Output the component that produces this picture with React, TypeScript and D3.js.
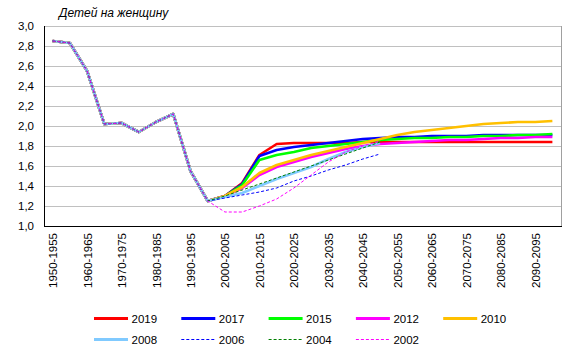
import React from "react";
import * as d3 from "d3";

const categories = [
  "1950-1955", "1955-1960", "1960-1965", "1965-1970", "1970-1975", "1975-1980",
  "1980-1985", "1985-1990", "1990-1995", "1995-2000", "2000-2005", "2005-2010",
  "2010-2015", "2015-2020", "2020-2025", "2025-2030", "2030-2035", "2035-2040",
  "2040-2045", "2045-2050", "2050-2055", "2055-2060", "2060-2065", "2065-2070",
  "2070-2075", "2075-2080", "2080-2085", "2085-2090", "2090-2095", "2095-2100",
];

const yTicks = [1.0, 1.2, 1.4, 1.6, 1.8, 2.0, 2.2, 2.4, 2.6, 2.8, 3.0];

// 1950-1955 .. 1995-2000
const history = [2.85, 2.83, 2.55, 2.02, 2.03, 1.94, 2.04, 2.12, 1.55, 1.25];

// 2000-2005 onward
const proj2019 = [1.30, 1.43, 1.71, 1.82, 1.83, 1.83, 1.83, 1.83, 1.84, 1.84, 1.84, 1.84, 1.84, 1.84, 1.84, 1.84, 1.84, 1.84, 1.84, 1.84];
const proj2017 = [1.30, 1.42, 1.70, 1.76, 1.79, 1.81, 1.83, 1.85, 1.87, 1.88, 1.89, 1.89, 1.90, 1.90, 1.90, 1.91, 1.91, 1.91, 1.91, 1.91];
const proj2015 = [1.30, 1.41, 1.66, 1.71, 1.74, 1.78, 1.80, 1.82, 1.84, 1.86, 1.87, 1.88, 1.88, 1.89, 1.89, 1.90, 1.90, 1.91, 1.91, 1.92];
const proj2012 = [1.30, 1.38, 1.51, 1.59, 1.64, 1.69, 1.73, 1.77, 1.80, 1.82, 1.83, 1.84, 1.85, 1.86, 1.86, 1.87, 1.88, 1.88, 1.89, 1.89];
const proj2010 = [1.30, 1.39, 1.53, 1.61, 1.66, 1.71, 1.75, 1.79, 1.83, 1.87, 1.91, 1.94, 1.96, 1.98, 2.00, 2.02, 2.03, 2.04, 2.04, 2.05];
const proj2008 = [1.29, 1.33, 1.40, 1.47, 1.53, 1.59, 1.67, 1.74, 1.79, 1.83];
const proj2006 = [1.28, 1.31, 1.34, 1.38, 1.45, 1.50, 1.56, 1.61, 1.67, 1.72];
const proj2004 = [1.30, 1.36, 1.42, 1.48, 1.54, 1.60, 1.66, 1.72, 1.78, 1.84];
const proj2002 = [1.14, 1.14, 1.20, 1.27, 1.38, 1.51, 1.64, 1.74, 1.80, 1.85];

const seriesNames = ["2019", "2017", "2015", "2012", "2010", "2008", "2006", "2004", "2002"];
const seriesValues = [proj2019, proj2017, proj2015, proj2012, proj2010, proj2008, proj2006, proj2004, proj2002];
const seriesColors = ["#FF0000", "#0000FF", "#00FF00", "#FF00FF", "#FFC000", "#80CAFF", "#0000FF", "#008000", "#FF00FF"];
const seriesDashed = [false, false, false, false, false, false, true, true, true];

const W = 575;
const H = 356;
const plotL = 44;
const plotR = 561;
const plotT = 26;
const plotB = 226;

export default function App() {
  const x = d3.scaleBand<string>().domain(categories).range([plotL, plotR]).padding(0);
  const y = d3.scaleLinear().domain([1, 3]).range([plotB, plotT]);
  const cx = (i: number) => (x(categories[i]) as number) + x.bandwidth() / 2;

  const line = d3
    .line<[number, number]>()
    .x((d) => cx(d[0]))
    .y((d) => y(d[1]));

  const series = seriesNames.map((name, k) => {
    const vals = [...history, ...seriesValues[k]];
    const pts: [number, number][] = vals.map((v, i) => [i, v]);
    return { name, pts, color: seriesColors[k], dashed: seriesDashed[k] };
  });

  const font = "'Liberation Sans', Arial, sans-serif";

  return (
    <svg
      width={W}
      height={H}
      style={{ position: "absolute", left: 0, top: 0, background: "#fff" }}
      fontFamily={font}
    >
      <rect x={0} y={0} width={W} height={H} fill="#fff" />
      {/* grid */}
      {yTicks.map((t) => (
        <line
          key={"g" + t}
          x1={plotL}
          x2={plotR}
          y1={Math.round(y(t)) + 0.5}
          y2={Math.round(y(t)) + 0.5}
          stroke="#C0C0C0"
          strokeWidth={1}
        />
      ))}
      <line x1={plotR + 0.5} x2={plotR + 0.5} y1={plotT} y2={plotB} stroke="#A0A0A0" />
      {/* y labels */}
      {yTicks.map((t) => (
        <text
          key={"yl" + t}
          x={34}
          y={y(t) + 4}
          textAnchor="end"
          fontSize={11.5}
          fill="#000"
        >
          {t.toFixed(1).replace(".", ",")}
        </text>
      ))}
      {/* title */}
      <text x={59} y={17} fontSize={12} fontStyle="italic" fill="#000">
        Детей на женщину
      </text>
      {/* lines */}
      {series.map((s) => (
        <path
          key={s.name}
          d={line(s.pts) || ""}
          fill="none"
          stroke={s.color}
          strokeWidth={s.dashed ? 1 : 2.6}
          strokeDasharray={s.dashed ? "3,2" : undefined}
          strokeLinejoin="round"
        />
      ))}
      {/* axes */}
      <line x1={plotL + 0.5} x2={plotL + 0.5} y1={plotT} y2={plotB + 1} stroke="#000" />
      <line x1={plotL} x2={plotR + 1} y1={plotB + 0.5} y2={plotB + 0.5} stroke="#000" />
      {/* x labels */}
      {categories.map((c, i) =>
        i % 2 === 0 ? (
          <text
            key={c}
            transform={`translate(${cx(i) + 4.5},${plotB + 7}) rotate(-90)`}
            textAnchor="end"
            fontSize={11.5}
            fill="#000"
          >
            {c}
          </text>
        ) : null
      )}
      {/* legend */}
      {series.map((s, k) => {
        const col = k % 5;
        const row = Math.floor(k / 5);
        const lx = 94 + col * 87.3;
        const ly = 318.5 + row * 21;
        return (
          <g key={"lg" + s.name}>
            <line
              x1={lx}
              x2={lx + 34}
              y1={ly}
              y2={ly}
              stroke={s.color}
              strokeWidth={s.dashed ? 1 : 3}
              strokeDasharray={s.dashed ? "3,2" : undefined}
            />
            <text x={lx + 37.5} y={ly + 4} fontSize={11.5} fill="#000">
              {s.name}
            </text>
          </g>
        );
      })}
    </svg>
  );
}
